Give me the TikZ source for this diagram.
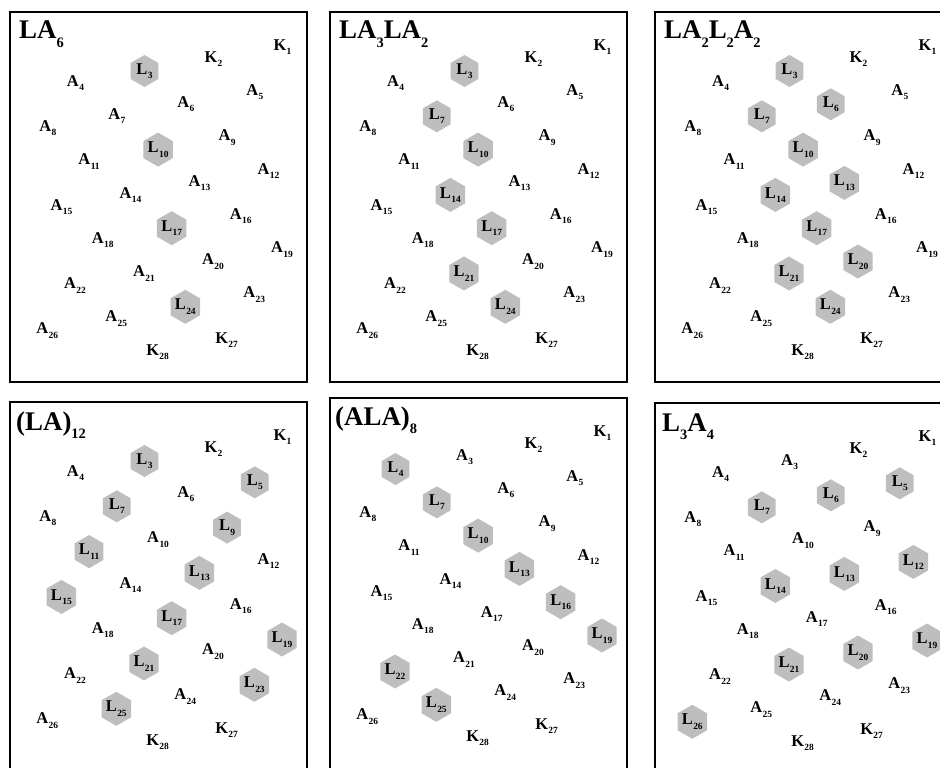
\documentclass[tikz,border=0pt]{standalone}
\usepackage{fontspec}
\setmainfont{Liberation Serif}
\usetikzlibrary{shapes.geometric}
\definecolor{hexgray}{RGB}{190,190,190}
\newcommand\atomlab[2]{{\fontsize{16.5}{16.5}\selectfont\bfseries #1}\kern0.4pt\raisebox{-4.5pt}{\fontsize{9.5}{9.5}\selectfont\bfseries #2}}
\newcommand\tmain[1]{{\fontsize{27}{27}\selectfont\bfseries #1}}
\newcommand\tsubs[1]{\raisebox{-9pt}{\fontsize{14.5}{14.5}\selectfont\bfseries #1}}
\tikzset{
  panelbox/.style={draw=black, line width=1.8bp},
  hexL/.style={regular polygon, regular polygon sides=6, shape border rotate=30,
    minimum size=32bp, inner sep=0pt, fill=hexgray, draw=none},
  atom/.style={inner sep=0pt},
  ttl/.style={inner sep=0pt, anchor=base west},
}
\makeatletter
\newcommand\drawpanel[5]{%
  \draw[panelbox] (#2,#3) rectangle ++(297,#5);
  \foreach \n/\i/\j in {1/0/0,2/1/0,3/2/0,4/3/0,5/0/1,6/1/1,7/2/1,8/3/1,
      9/0/2,10/1/2,11/2/2,12/-1/3,13/0/3,14/1/3,15/2/3,16/-1/4,17/0/4,18/1/4,
      19/-2/5,20/-1/5,21/0/5,22/1/5,23/-2/6,24/-1/6,25/0/6,26/1/6,27/-2/7,28/-1/7}{%
    \pgfmathsetmacro\px{#2+272.5-69*\i-27.7*\j}%
    \pgfmathsetmacro\py{#3+35+12*\i+45.3*\j}%
    \edef\tmpx{\noexpand\in@{,\n,}{#4}}\tmpx
    \ifin@
      \node[hexL] (#1-\n) at (\px,\py) {\atomlab{L}{\n}};
    \else
      \ifnum\n<3
        \node[atom] (#1-\n) at (\px,\py) {\atomlab{K}{\n}};
      \else\ifnum\n>26
        \node[atom] (#1-\n) at (\px,\py) {\atomlab{K}{\n}};
      \else
        \node[atom] (#1-\n) at (\px,\py) {\atomlab{A}{\n}};
      \fi\fi
    \fi
  }%
}
\makeatother
\begin{document}
\begin{tikzpicture}[x=1bp,y=-1bp]
\useasboundingbox (0,0) rectangle (940,768);
\clip (0,0) rectangle (940,768);
\drawpanel{pa}{10}{12}{,3,10,17,24,}{370}
\drawpanel{pb}{330}{12}{,3,7,10,14,17,21,24,}{370}
\drawpanel{pc}{655}{12}{,3,6,7,10,13,14,17,20,21,24,}{370}
\drawpanel{pd}{10}{402}{,3,5,7,9,11,13,15,17,19,21,23,25,}{390}
\drawpanel{pe}{330}{398}{,4,7,10,13,16,19,22,25,}{390}
\drawpanel{pf}{655}{403}{,5,6,7,12,13,14,19,20,21,26,}{390}
\node[ttl] (ta) at (19,39) {\tmain{LA}\tsubs{6}};
\node[ttl] (tb) at (339,39) {\tmain{LA}\tsubs{3}\tmain{LA}\tsubs{2}};
\node[ttl] (tc) at (664,39) {\tmain{LA}\tsubs{2}\tmain{L}\tsubs{2}\tmain{A}\tsubs{2}};
\node[ttl] (td) at (16,430) {\tmain{(LA)}\tsubs{12}};
\node[ttl] (te) at (335,425) {\tmain{(ALA)}\tsubs{8}};
\node[ttl] (tf) at (662,431) {\tmain{L}\tsubs{3}\tmain{A}\tsubs{4}};
\end{tikzpicture}
\end{document}
